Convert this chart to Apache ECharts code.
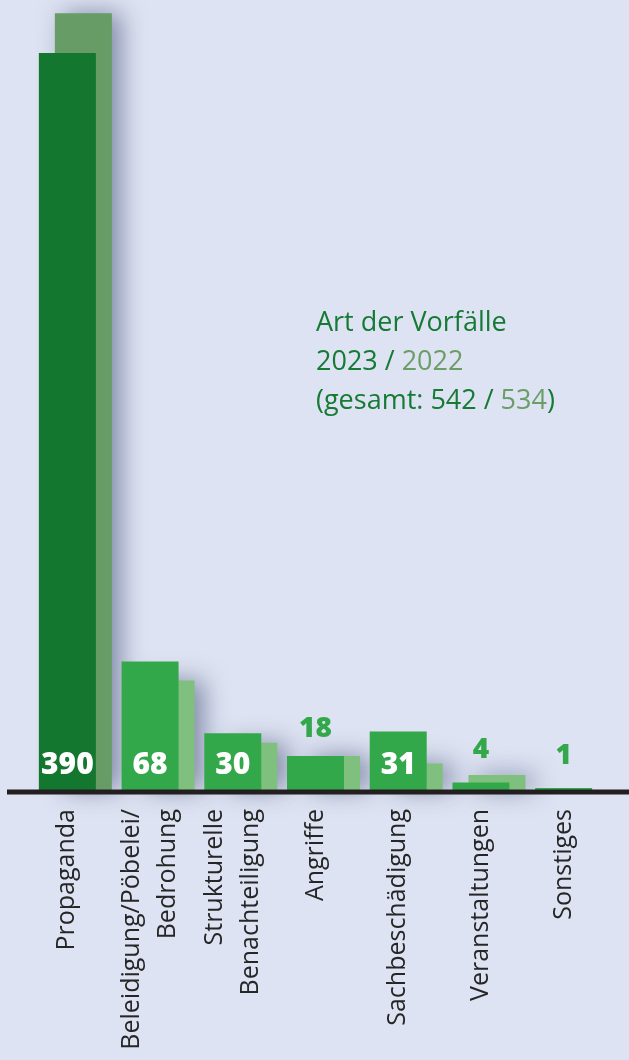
<!DOCTYPE html>
<html>
<head>
<meta charset="utf-8">
<script src="https://cdn.jsdelivr.net/npm/echarts@6/dist/echarts.min.js"></script>
<style>
  html, body { margin: 0; padding: 0; background: #dde3f2; }
  #chart { width: 629px; height: 1060px; }
</style>
</head>
<body>
<div id="chart"></div>
<script>
// Art der Vorfälle
const categories = [
  'Propaganda',
  'Beleidigung/Pöbelei/\nBedrohung',
  'Strukturelle\nBenachteiligung',
  'Angriffe',
  'Sachbeschädigung',
  'Veranstaltungen',
  'Sonstiges'
];
const values2023 = [390, 68, 30, 18, 31, 4, 1];
const values2022 = [411, 58, 25, 18, 14, 8, 0];

const GREEN_DARK = '#13772f';
const GREEN = '#33a84a';
const OLD_DARK = '#679c66';
const OLD = '#80c07e';

const sum = arr => arr.reduce((a, b) => a + b, 0);

const chart = echarts.init(document.getElementById('chart'));

// 2023: grosse Werte weiss im Balken, kleine gruen darueber
const data2023 = values2023.map((v, i) => {
  const inside = v >= 25;
  return {
    value: v,
    itemStyle: { color: i === 0 ? GREEN_DARK : GREEN },
    label: inside
      ? { position: 'insideBottom', distance: 10, color: '#fff', fontSize: 30 }
      : { position: 'top', distance: v < 10 ? 18 : 13, color: GREEN, fontSize: 28 }
  };
});
const data2022 = values2022.map((v, i) => ({
  value: v,
  itemStyle: { color: i === 0 ? OLD_DARK : OLD }
}));

const titleStyle = { fontFamily: 'Open Sans', fontSize: 27, fontWeight: 'normal', lineHeight: 39 };

const option = {
  backgroundColor: '#dde3f2',
  animation: false,
  title: {
    left: 311,
    top: 299,
    text: '{a|Art der Vorfälle}\n{a|2023 / }{b|2022}\n{a|(gesamt: ' + sum(values2023) + ' / }{b|' + sum(values2022) + '}{a|)}',
    textStyle: {
      fontWeight: 'normal',
      rich: {
        a: Object.assign({ color: '#157a34' }, titleStyle),
        b: Object.assign({ color: '#6a9e66' }, titleStyle)
      }
    }
  },
  grid: [
    { left: 26, right: 24, top: 0, bottom: 270 },
    { left: 42, right: 8, top: 0, bottom: 270 }
  ],
  xAxis: [
    {
      type: 'category',
      gridIndex: 0,
      data: categories,
      axisLine: { show: false },
      axisTick: { show: false },
      axisLabel: {
        rotate: 90,
        interval: 0,
        margin: 19,
        fontFamily: 'Open Sans',
        fontSize: 25,
        lineHeight: 36,
        color: '#262626'
      }
    },
    {
      type: 'category',
      gridIndex: 1,
      data: categories,
      show: false
    }
  ],
  yAxis: [
    { type: 'value', gridIndex: 0, min: 0, max: 418, show: false },
    { type: 'value', gridIndex: 1, min: 0, max: 418, show: false }
  ],
  series: [
    {
      name: '2022',
      type: 'bar',
      xAxisIndex: 1,
      yAxisIndex: 1,
      barWidth: 57,
      z: 1,
      data: data2022,
      itemStyle: {
        shadowBlur: 24,
        shadowOffsetX: 9,
        shadowColor: 'rgba(55,65,105,0.55)'
      }
    },
    {
      name: '2023',
      type: 'bar',
      xAxisIndex: 0,
      yAxisIndex: 0,
      barWidth: 57,
      z: 3,
      data: data2023,
      label: {
        show: true,
        fontFamily: 'Open Sans',
        fontWeight: 800
      }
    }
  ],
  graphic: [
    {
      type: 'rect',
      left: 7,
      top: 789.5,
      shape: { width: 622, height: 5 },
      style: { fill: '#231f20' },
      z: 10
    }
  ]
};

chart.setOption(option);
</script>
</body>
</html>
